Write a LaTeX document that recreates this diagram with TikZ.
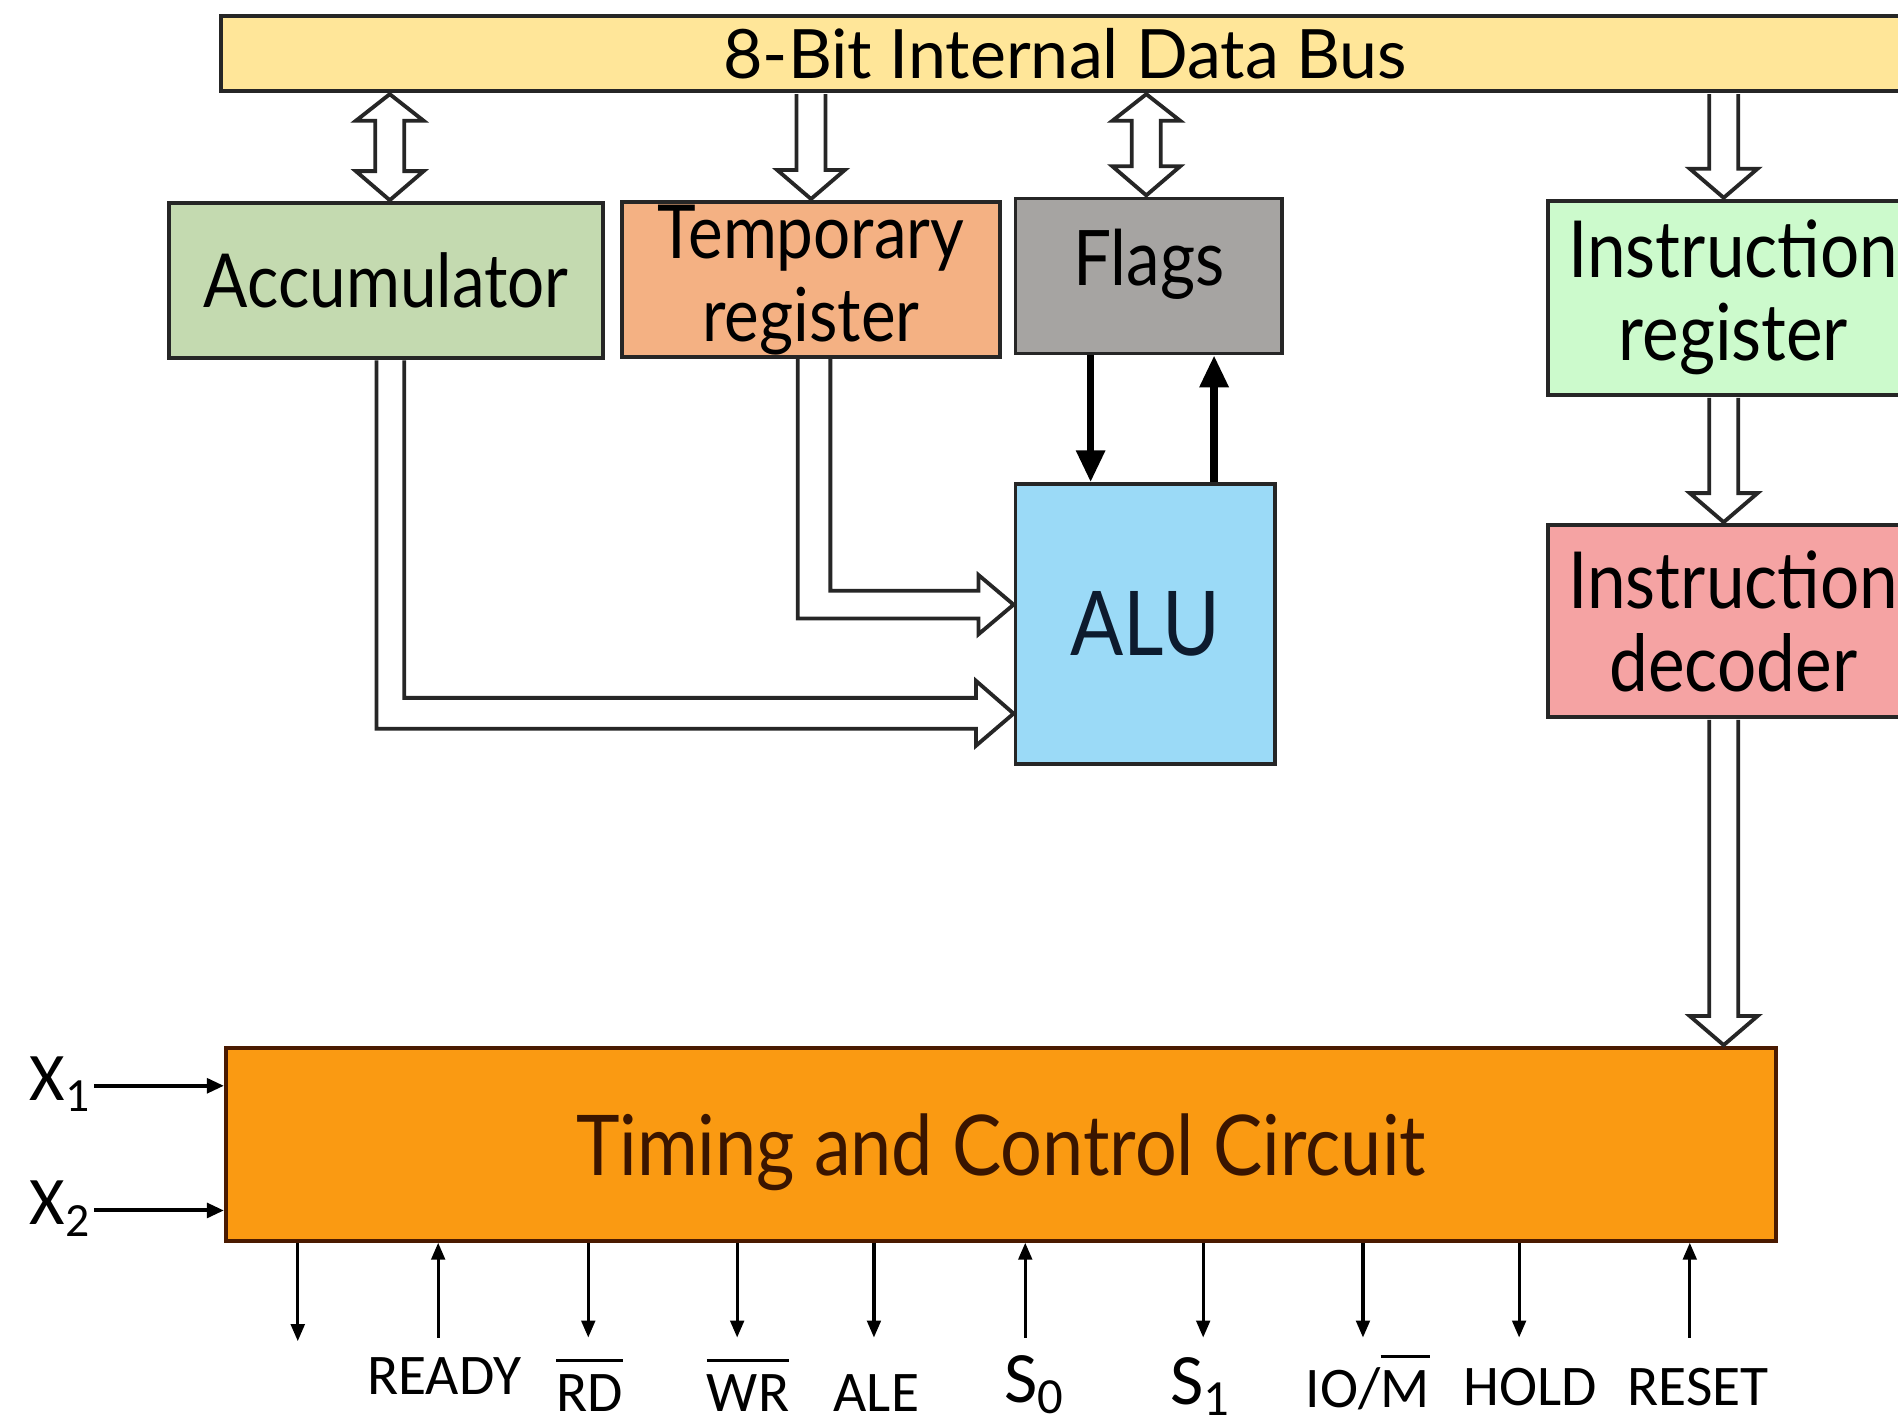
\documentclass[tikz,border=0pt]{standalone}
\usepackage{fontspec}
\setmainfont{Lato}[FakeStretch=0.88]
\newfontfamily\busfont{Lato}
\newfontfamily\calfont{Carlito}
\usetikzlibrary{arrows.meta,calc}
\definecolor{busc}{HTML}{FFE699}
\definecolor{accc}{HTML}{C4DAB0}
\definecolor{tempc}{HTML}{F4B183}
\definecolor{flagc}{HTML}{A6A4A2}
\definecolor{irc}{HTML}{CCFACC}
\definecolor{idc}{HTML}{F5A3A3}
\definecolor{aluc}{HTML}{9BDAF7}
\definecolor{tccc}{HTML}{FA9A12}
\definecolor{tccline}{HTML}{4A1A00}
\definecolor{tcctext}{HTML}{3A1500}
\definecolor{alutext}{HTML}{0D1B2E}
\definecolor{boxline}{HTML}{262626}
\newcommand\hollowboth[2]{%
  \draw[hollow] (#1) -- ++(28,22) -- ++(-16,0) -- ($(#2)+(12,-24)$) -- ++(16,0) -- (#2)
    -- ++(-28,-24) -- ++(16,0) -- ($(#1)+(-12,22)$) -- ++(-16,0) -- cycle;}
\newcommand\hollowdown[2]{%
  \draw[hollow] ($(#1)+(-12,0)$) -- ($(#2)+(-12,-24)$) -- ++(-16,0) -- (#2)
    -- ++(28,-24) -- ++(-16,0) -- ($(#1)+(12,0)$);}
\newcommand\ovl[1]{\vbox{\hrule height 0.7pt\kern 3pt\hbox{#1}}}
\begin{document}
\begin{tikzpicture}[x=0.01cm,y=-0.01cm,
  box/.style={draw=boxline, line width=0.9pt, inner sep=0pt, align=center},
  hollow/.style={draw=boxline, line width=0.9pt, fill=white, line join=miter},
  thickarrow/.style={draw=black, line width=1.7pt, -{Triangle[length=7.5pt,width=6.5pt]}},
  thinarrow/.style={draw=black, line width=0.75pt, -{Triangle[length=4pt,width=3.2pt]}},
  xarrow/.style={draw=black, line width=0.95pt, -{Triangle[length=4pt,width=3.4pt]}},
  sig/.style={font=\calfont\fontsize{13.5}{16}\selectfont, inner sep=0pt, anchor=base},
  bigsig/.style={font=\calfont\fontsize{17}{19}\selectfont, inner sep=0pt, anchor=base},
  twoline/.style={font=\fontsize{17.5}{19.5}\selectfont},
]
\useasboundingbox (0,0) rectangle (1568,1175);
\clip (0,0) rectangle (1568,1175);
\fill[white] (0,0) rectangle (1568,1175);

% blocks
\node[box, line width=1pt, fill=busc, minimum width=13.94cm, minimum height=0.62cm,
  font=\busfont\fontsize{16}{18}\selectfont] (bus) at (880,44) {8-Bit Internal Data Bus};
\node[box, fill=accc, minimum width=3.58cm, minimum height=1.28cm,
  font=\fontsize{17.5}{20}\selectfont] (acc) at (319,232) {Accumulator};
\node[box, twoline, fill=tempc, minimum width=3.12cm, minimum height=1.28cm] (temp) at (670,231) {Temporary\\register};
\node[box, fill=flagc, minimum width=2.20cm, minimum height=1.28cm, text depth=9pt,
  font=\fontsize{18}{22}\selectfont] (flags) at (949,228) {Flags};
\node[box, fill=irc, minimum width=3.06cm, minimum height=1.60cm,
  font=\fontsize{18.5}{19.5}\selectfont] (ir) at (1432,246) {Instruction\\register};
\node[box, fill=idc, minimum width=3.06cm, minimum height=1.58cm,
  font=\fontsize{18.5}{19.5}\selectfont] (id) at (1432,513) {Instruction\\decoder};
\node[box, fill=aluc, minimum width=2.14cm, minimum height=2.31cm, text=alutext,
  font=\fontsize{21}{24}\selectfont] (alu) at (946,515.5) {ALU};
\node[box, draw=tccline, fill=tccc, minimum width=12.80cm, minimum height=1.59cm, text=tcctext,
  text depth=0pt, font=\fontsize{19.7}{24}\selectfont] (tcc) at (827,945.5) {Timing and Control Circuit};

% hollow bus arrows
\coordinate (accT) at ($(bus.south -| acc.north)+(3,1)$);
\coordinate (accB) at ($(acc.north)+(3,-1)$);
\hollowboth{accT}{accB}
\coordinate (tmpT) at ($(bus.south -| temp.north)+(0,1)$);
\coordinate (tmpB) at ($(temp.north)+(0,-1)$);
\hollowdown{tmpT}{tmpB}
\coordinate (flgT) at ($(bus.south -| flags.north)+(-2,1)$);
\coordinate (flgB) at ($(flags.north)+(-2,-1)$);
\hollowboth{flgT}{flgB}
\coordinate (irT) at ($(bus.south -| ir.north)+(-8,1)$);
\coordinate (irB) at ($(ir.north)+(-8,-1)$);
\hollowdown{irT}{irB}
\coordinate (idT) at ($(ir.south)+(-8,1)$);
\coordinate (idB) at ($(id.north)+(-8,-1)$);
\hollowdown{idT}{idB}
\coordinate (tcT) at ($(id.south)+(-8,1)$);
\coordinate (tcB) at ($(idT |- tcc.north)+(0,-1)$);
\hollowdown{tcT}{tcB}

% hollow L arrows into ALU
\coordinate (accIn) at ($(alu.west)+(0,74)$);
\draw[hollow] ($(acc.south)+(-8,0)$) |- ($(accIn)+(-31,12.5)$) -- ++(0,14) -- (accIn)
  -- ++(-31,-27) -- ++(0,14) -| ($(acc.south)+(15,0)$);
\coordinate (tmpIn) at ($(alu.west)+(0,-16)$);
\draw[hollow] ($(temp.south)+(-11,0)$) |- ($(tmpIn)+(-29,11.5)$) -- ++(0,13) -- (tmpIn)
  -- ++(-29,-24.5) -- ++(0,13) -| ($(temp.south)+(16,0)$);

% flags <-> ALU
\coordinate (fd) at ($(flags.south)+(-48,0)$);
\draw[thickarrow] (fd) -- (fd |- alu.north);
\coordinate (fu) at ($(alu.north)+(57,0)$);
\draw[thickarrow] (fu) -- (fu |- flags.south);

% clock inputs
\node[font=\calfont\fontsize{16}{18}\selectfont, inner sep=0pt, anchor=base west] (x1) at (24,909) {X\textsubscript{1}};
\node[font=\calfont\fontsize{16}{18}\selectfont, inner sep=0pt, anchor=base west] (x2) at (24,1012) {X\textsubscript{2}};
\coordinate (x1a) at (78,897);
\coordinate (x2a) at (78,1000);
\draw[xarrow] (x1a) -- (x1a -| tcc.west);
\draw[xarrow] (x2a) -- (x2a -| tcc.west);

% bottom signals
\coordinate (b1) at (246,1108);
\coordinate (b2) at (362,1105);
\coordinate (b3) at (486,1105);
\coordinate (b4) at (609,1105);
\coordinate (b5) at (722,1105);
\coordinate (b6) at (847,1105);
\coordinate (b7) at (994,1105);
\coordinate (b8) at (1126,1105);
\coordinate (b9) at (1255,1105);
\coordinate (b10) at (1396,1105);
\draw[thinarrow] (b1 |- tcc.south) -- (b1);
\draw[thinarrow] (b2) -- (b2 |- tcc.south);
\draw[thinarrow] (b3 |- tcc.south) -- (b3);
\draw[thinarrow] (b4 |- tcc.south) -- (b4);
\draw[thinarrow] (b5 |- tcc.south) -- (b5);
\draw[thinarrow] (b6) -- (b6 |- tcc.south);
\draw[thinarrow] (b7 |- tcc.south) -- (b7);
\draw[thinarrow] (b8 |- tcc.south) -- (b8);
\draw[thinarrow] (b9 |- tcc.south) -- (b9);
\draw[thinarrow] (b10) -- (b10 |- tcc.south);

\node[sig] (lready) at (367,1152) {READY};
\node[sig] (lrd) at (487,1166) {\ovl{RD}};
\node[sig] (lwr) at (618,1166) {\ovl{WR}};
\node[sig] (lale) at (724,1166) {ALE};
\node[bigsig] (ls0) at (855,1159) {S\textsubscript{0}};
\node[bigsig] (ls1) at (992,1160) {S\textsubscript{1}};
\node[sig] (liom) at (1130,1163) {IO/\ovl{M}};
\node[sig] (lhold) at (1264,1161) {HOLD};
\node[sig] (lreset) at (1403,1161) {RESET};
\end{tikzpicture}
\end{document}
